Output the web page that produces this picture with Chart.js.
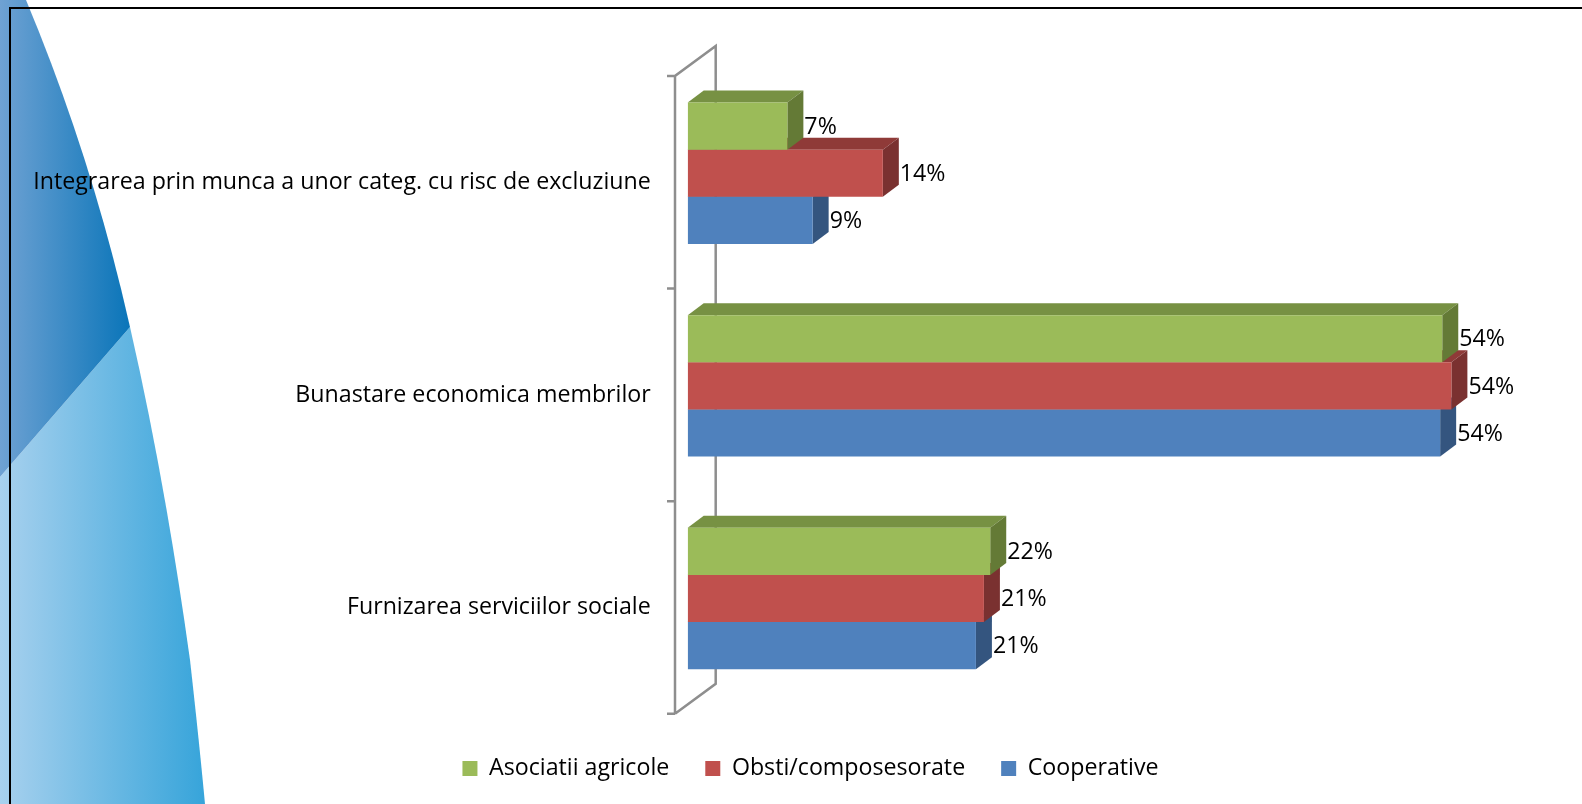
<!DOCTYPE html>
<html>
<head>
<meta charset="utf-8">
<style>
  html, body { margin: 0; padding: 0; background: #fff; }
  #wrap { position: relative; width: 1582px; height: 804px; overflow: hidden; }
  #bg, #chart { position: absolute; left: 0; top: 0; }
</style>
<script src="https://cdn.jsdelivr.net/npm/chart.js@4"></script>
</head>
<body>
<div id="wrap">
  <svg id="bg" width="1582" height="804" xmlns="http://www.w3.org/2000/svg">
    <defs>
      <linearGradient id="lightBlue" gradientUnits="userSpaceOnUse" x1="0" y1="0" x2="206" y2="0">
        <stop offset="0" stop-color="#a8d1ee"/>
        <stop offset="1" stop-color="#36a4da"/>
      </linearGradient>
      <linearGradient id="darkBlue" gradientUnits="userSpaceOnUse" x1="0" y1="0" x2="130" y2="0">
        <stop offset="0" stop-color="#6fa2d3"/>
        <stop offset="1" stop-color="#0a75b9"/>
      </linearGradient>
    </defs>
    <path d="M0 477 L130 327 Q165 480 190 660 Q199 740 205 804 L0 804 Z" fill="url(#lightBlue)"/>
    <path d="M0 0 L26 0 Q92 158 130 327 L0 477 Z" fill="url(#darkBlue)"/>
    <path d="M10 804 L10 8 L1582 8" fill="none" stroke="#000" stroke-width="2"/>
  </svg>
  <canvas id="chart" width="1582" height="804"></canvas>
</div>
<script>
// category + series values
const categories = [
  'Integrarea prin munca a unor categ. cu risc de excluziune',
  'Bunastare economica membrilor',
  'Furnizarea serviciilor sociale',
];
const asociatiiAgricole   = [7.1, 53.75, 21.55];
const obstiComposesorate  = [13.9, 54.4, 21.1];
const cooperative         = [8.9, 53.6, 20.53];

const FONT = '"Open Sans"';
const FONT_SIZE = 23.2;
const AXIS_GREY = '#8e8e8e';

// extrusion of the bars and the wall behind them
const BAR_DX = 16, BAR_DY = 12;
const WALL_DX = 40.7, WALL_DY = 30;
const WALL_LEFT = 12.7, WALL_DOWN = 9;
const LEGEND_SHIFT = 45.5;

function quad(ctx, pts, fill) {
  ctx.fillStyle = fill;
  ctx.beginPath();
  pts.forEach((p, i) => i ? ctx.lineTo(p[0], p[1]) : ctx.moveTo(p[0], p[1]));
  ctx.closePath();
  ctx.fill();
}

// ── 3D look: wall, axis, top and side faces ────────────────────────────────
const faces3d = {
  id: 'faces3d',
  // legend sits right of the canvas centre in the original
  afterLayout(chart) {
    chart.legend.left += LEGEND_SHIFT;
    chart.legend.right += LEGEND_SHIFT;
  },
  beforeDatasetsDraw(chart) {
    const { ctx, chartArea, scales } = chart;
    const x0 = scales.x.getPixelForValue(0) - WALL_LEFT;
    const top = chartArea.top + WALL_DOWN;
    const bottom = chartArea.bottom + WALL_DOWN;

    ctx.save();
    ctx.strokeStyle = AXIS_GREY;
    ctx.lineWidth = 2.5;
    ctx.beginPath();
    ctx.moveTo(x0, bottom);
    ctx.lineTo(x0, top);
    ctx.lineTo(x0 + WALL_DX, top - WALL_DY);
    ctx.lineTo(x0 + WALL_DX, bottom - WALL_DY);
    ctx.lineTo(x0, bottom);
    const step = (bottom - top) / categories.length;
    for (let i = 0; i <= categories.length; i++) {
      ctx.moveTo(x0 - 8, top + step * i);
      ctx.lineTo(x0, top + step * i);
    }
    ctx.stroke();

    // blue first, green last, so each bar hides the one under it
    for (let d = chart.data.datasets.length - 1; d >= 0; d--) {
      const ds = chart.data.datasets[d];
      chart.getDatasetMeta(d).data.forEach(bar => {
        const l = bar.base, r = bar.x;
        const t = bar.y - bar.height / 2, b = bar.y + bar.height / 2;
        quad(ctx, [[l, t], [r, t], [r + BAR_DX, t - BAR_DY], [l + BAR_DX, t - BAR_DY]], ds.topColor);
        quad(ctx, [[r, t], [r + BAR_DX, t - BAR_DY], [r + BAR_DX, b - BAR_DY], [r, b]], ds.sideColor);
      });
    }
    ctx.restore();
  },
  afterDatasetsDraw(chart) {
    const { ctx } = chart;
    ctx.save();
    ctx.fillStyle = '#000';
    ctx.font = FONT_SIZE + 'px ' + FONT;
    ctx.textBaseline = 'middle';
    chart.data.datasets.forEach((ds, d) => {
      chart.getDatasetMeta(d).data.forEach((bar, i) => {
        ctx.fillText(Math.round(ds.data[i]) + '%', bar.x + BAR_DX + 1, bar.y + 1);
      });
    });
    ctx.restore();
  },
};

new Chart(document.getElementById('chart'), {
  type: 'bar',
  data: {
    labels: categories,
    datasets: [
      { label: 'Asociatii agricole',  data: asociatiiAgricole,  backgroundColor: '#9bbb59', topColor: '#779143', sideColor: '#647a36' },
      { label: 'Obsti/composesorate', data: obstiComposesorate, backgroundColor: '#c0504d', topColor: '#8f3a38', sideColor: '#7a3130' },
      { label: 'Cooperative',         data: cooperative,        backgroundColor: '#4f81bd', topColor: '#3f6797', sideColor: '#34557f' },
    ],
  },
  plugins: [faces3d],
  options: {
    indexAxis: 'y',
    responsive: false,
    animation: false,
    layout: { padding: { top: 67, right: 52, left: 0, bottom: 14 } },
    categoryPercentage: 0.665,
    barPercentage: 1,
    scales: {
      x: {
        min: 0,
        max: 60,
        grid: { display: false },
        border: { display: false },
        ticks: { display: false },
        afterFit: s => { s.height = 16; },
      },
      y: {
        grid: { display: false },
        border: { display: false },
        ticks: { color: '#000', padding: 29, labelOffset: 9, font: { family: FONT, size: FONT_SIZE } },
        afterFit: s => { s.width = 687.7; },
      },
    },
    plugins: {
      tooltip: { enabled: false },
      legend: {
        position: 'bottom',
        labels: { color: '#000', boxWidth: 15, boxHeight: 15, padding: 36, font: { family: FONT, size: FONT_SIZE } },
      },
    },
  },
});
</script>
</body>
</html>
